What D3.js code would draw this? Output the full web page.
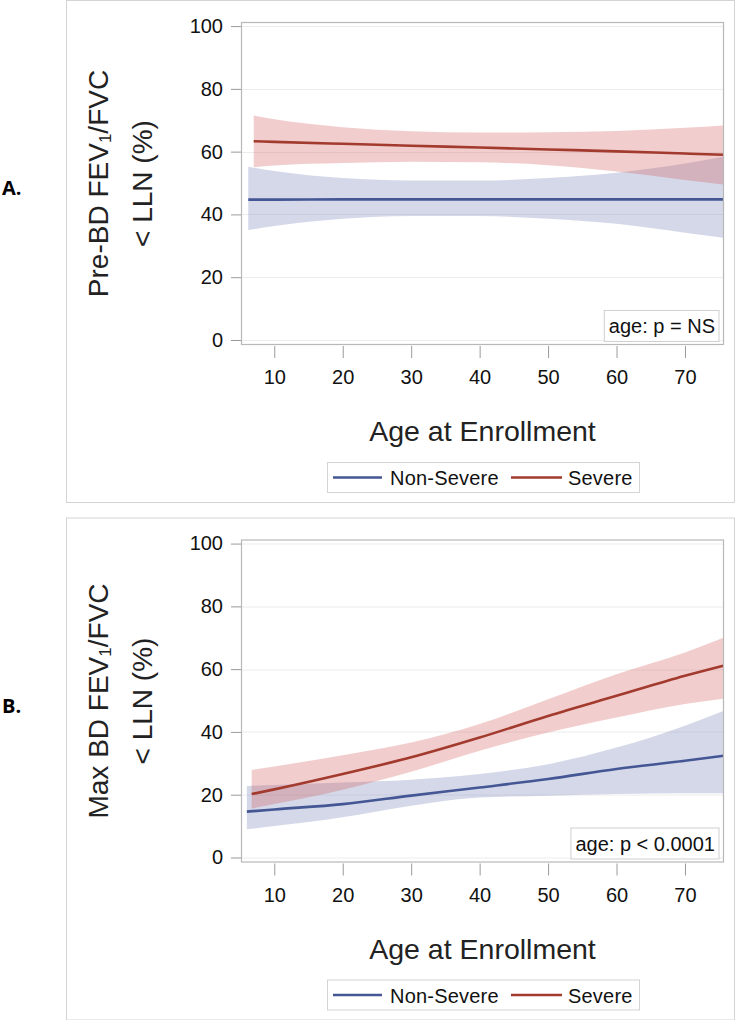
<!DOCTYPE html>
<html>
<head>
<meta charset="utf-8">
<script src="https://cdn.jsdelivr.net/npm/d3@7"></script>
<style>
  html, body { margin: 0; padding: 0; background: #fff; }
  svg { display: block; font-family: "Liberation Sans", Arial, sans-serif; }
</style>
</head>
<body>
<svg id="chart" width="737" height="1020"></svg>
<script>
// ---------- data ----------
const seriesNames = ["Non-Severe", "Severe"];
const xTicks = [10, 20, 30, 40, 50, 60, 70];
const yTicks = [0, 20, 40, 60, 80, 100];
const panelLetters = ["A.", "B."];
const yTitleLine1 = ["Pre-BD FEV", "Max BD FEV"];
const yTitleLine2 = "< LLN (%)";
const xTitle = "Age at Enrollment";
const annotations = ["age: p = NS", "age: p < 0.0001"];

// Panel A: Pre-BD
const agesA_non = [6.2, 10, 20, 30, 40, 50, 60, 70, 75.6];
const estA_non  = [44.7, 44.7, 44.8, 44.8, 44.8, 44.8, 44.8, 44.8, 44.8];
const loA_non   = [35.0, 36.3, 38.6, 39.5, 39.5, 38.6, 37.0, 34.2, 32.6];
const hiA_non   = [55.2, 53.8, 51.6, 50.8, 50.8, 51.6, 53.3, 56.2, 58.4];
const agesA_sev = [7.0, 10, 20, 30, 40, 50, 60, 70, 75.6];
const estA_sev  = [63.3, 63.1, 62.5, 61.9, 61.3, 60.7, 60.1, 59.4, 59.0];
const loA_sev   = [55.0, 55.6, 56.4, 56.8, 56.6, 55.7, 53.7, 51.0, 49.5];
const hiA_sev   = [71.5, 70.3, 67.8, 66.5, 66.1, 66.2, 66.6, 67.6, 68.3];

// Panel B: Max BD
const agesB_non = [6.0, 10, 20, 30, 40, 50, 60, 70, 75.6];
const estB_non  = [14.6, 15.3, 17.0, 19.7, 22.3, 25.0, 28.2, 30.8, 32.4];
const loB_non   = [9.0, 10.0, 12.8, 16.5, 19.1, 19.7, 20.2, 20.5, 20.5];
const hiB_non   = [22.8, 23.1, 23.9, 24.8, 26.6, 29.7, 35.0, 42.0, 46.7];
const agesB_sev = [6.7, 10, 20, 30, 40, 50, 60, 70, 75.6];
const estB_sev  = [20.2, 21.7, 26.6, 31.9, 38.2, 45.1, 51.5, 57.9, 61.1];
const loB_sev   = [15.6, 17.0, 21.6, 27.3, 34.0, 39.8, 44.6, 48.9, 50.6];
const hiB_sev   = [27.9, 29.0, 32.6, 36.6, 42.5, 50.4, 58.4, 65.3, 70.0];

// ---------- styling ----------
const lineColors = ["#445694", "#A23A2E"];
const bandColors = ["#6F7EB3", "#D05B5B"];

function build(ages, est, lo, hi) {
  return ages.map((a, i) => ({ age: a, est: est[i], lo: lo[i], hi: hi[i] }));
}
const panels = [
  { series: [build(agesA_non, estA_non, loA_non, hiA_non), build(agesA_sev, estA_sev, loA_sev, hiA_sev)] },
  { series: [build(agesB_non, estB_non, loB_non, hiB_non), build(agesB_sev, estB_sev, loB_sev, hiB_sev)] }
];

const svg = d3.select("#chart");
const offsets = [0, 517.5];
const frame = { left: 241, right: 724, top: 22, bottom: 345 };

panels.forEach((p, pi) => {
  const g = svg.append("g").attr("transform", `translate(0,${offsets[pi]})`);

  // outer box
  g.append("rect").attr("x", 66.5).attr("y", 0.5).attr("width", 668).attr("height", 502)
    .attr("fill", "none").attr("stroke", "#d4d4d4").attr("stroke-width", 1);

  // panel letter
  g.append("text").attr("x", 2).attr("y", 195).attr("font-size", 20).attr("font-weight", "bold")
    .attr("font-family", "'Open Sans', 'Liberation Sans', sans-serif")
    .attr("fill", "#000").text(panelLetters[pi]);

  const x = d3.scaleLinear().domain([5.14, 75.7]).range([frame.left, frame.right]);
  const y = d3.scaleLinear().domain([-1.6, 101.3]).range([frame.bottom, frame.top]);

  // gridlines
  g.append("g").selectAll("line").data(yTicks).join("line")
    .attr("x1", frame.left).attr("x2", frame.right)
    .attr("y1", d => Math.round(y(d)) + 0.5).attr("y2", d => Math.round(y(d)) + 0.5)
    .attr("stroke", "#ececec").attr("stroke-width", 1);

  // bands
  const area = d3.area().curve(d3.curveMonotoneX)
    .x(d => x(d.age)).y0(d => y(d.lo)).y1(d => y(d.hi));
  p.series.forEach((s, si) => {
    g.append("path").datum(s).attr("d", area)
      .attr("fill", bandColors[si]).attr("fill-opacity", 0.3);
  });
  // lines
  const line = d3.line().curve(d3.curveMonotoneX).x(d => x(d.age)).y(d => y(d.est));
  p.series.forEach((s, si) => {
    g.append("path").datum(s).attr("d", line)
      .attr("fill", "none").attr("stroke", lineColors[si]).attr("stroke-width", 2.6);
  });

  // frame
  g.append("rect").attr("x", frame.left + 0.5).attr("y", frame.top + 0.5)
    .attr("width", frame.right - frame.left - 1).attr("height", frame.bottom - frame.top - 1)
    .attr("fill", "none").attr("stroke", "#b8b8b8").attr("stroke-width", 1.2);

  // y axis
  const yAxis = d3.axisLeft(y).tickValues(yTicks).tickSize(10).tickPadding(8).tickFormat(d3.format("d"));
  const ya = g.append("g").attr("transform", `translate(${frame.left},0)`).call(yAxis);
  ya.select(".domain").remove();
  ya.selectAll(".tick line").attr("stroke", "#9a9a9a");
  ya.selectAll(".tick text").attr("font-size", 20).attr("fill", "#111")
    .attr("font-family", "'Liberation Sans', Arial, sans-serif");

  // x axis
  const xAxis = d3.axisBottom(x).tickValues(xTicks).tickSize(12).tickPadding(12).tickFormat(d3.format("d"));
  const xa = g.append("g").attr("transform", `translate(0,${frame.bottom + 1})`).call(xAxis);
  xa.select(".domain").remove();
  xa.selectAll(".tick line").attr("stroke", "#9a9a9a");
  xa.selectAll(".tick text").attr("font-size", 20).attr("fill", "#111")
    .attr("font-family", "'Liberation Sans', Arial, sans-serif");

  // x title
  const cx = (frame.left + frame.right) / 2;
  g.append("text").attr("x", cx).attr("y", 441).attr("text-anchor", "middle")
    .attr("font-size", 28.5).attr("fill", "#222").text(xTitle);

  // y title (two lines, rotated)
  const cy = (frame.top + frame.bottom) / 2;
  const t1 = g.append("text").attr("transform", `translate(108,${cy}) rotate(-90)`)
    .attr("text-anchor", "middle").attr("font-size", 28).attr("fill", "#222");
  t1.append("tspan").text(yTitleLine1[pi]);
  t1.append("tspan").attr("font-size", 17).attr("dy", 3).text("1");
  t1.append("tspan").attr("dy", -3).text("/FVC");
  g.append("text").attr("transform", `translate(152,${cy}) rotate(-90)`)
    .attr("text-anchor", "middle").attr("font-size", 28).attr("fill", "#222").text(yTitleLine2);

  // annotation box
  const ann = g.append("g");
  const annText = ann.append("text").attr("x", 715).attr("y", 333).attr("text-anchor", "end")
    .attr("font-size", 20).attr("fill", "#111").text(annotations[pi]);
  const bb = annText.node().getBBox();
  ann.insert("rect", "text").attr("x", bb.x - 4.5).attr("y", 310.5)
    .attr("width", 719 - (bb.x - 4.5)).attr("height", 31)
    .attr("fill", "#fff").attr("fill-opacity", 0.9).attr("stroke", "#d0d0d0");

  // legend
  const lg = g.append("g");
  lg.append("rect").attr("x", 327.5).attr("y", 462.5).attr("width", 312).attr("height", 30)
    .attr("fill", "#fff").attr("stroke", "#d4d4d4");
  const legendItems = [
    { name: seriesNames[0], x1: 333, x2: 382, tx: 390 },
    { name: seriesNames[1], x1: 511, x2: 562, tx: 568 }
  ];
  legendItems.forEach((it, i) => {
    lg.append("line").attr("x1", it.x1).attr("x2", it.x2).attr("y1", 477.5).attr("y2", 477.5)
      .attr("stroke", lineColors[i]).attr("stroke-width", 2.6);
    lg.append("text").attr("x", it.tx).attr("y", 485).attr("font-size", 20)
      .attr("fill", "#111").attr("letter-spacing", 0.2).text(it.name);
  });
});
</script>
</body>
</html>
